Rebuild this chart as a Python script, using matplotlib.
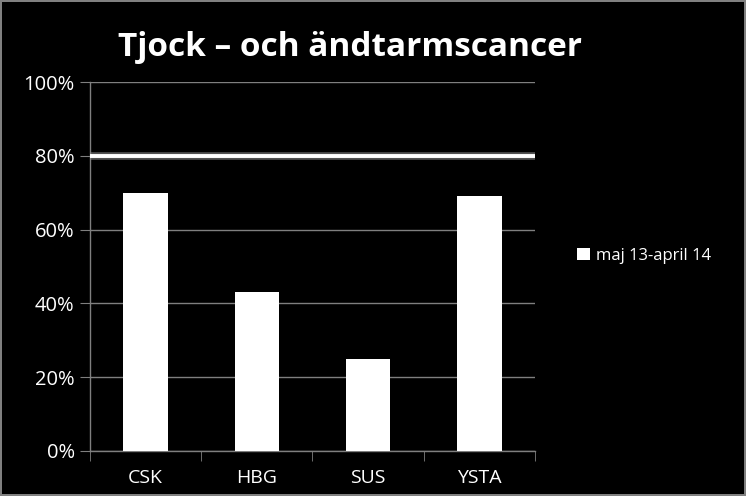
import matplotlib
matplotlib.use("Agg")
import matplotlib.pyplot as plt
import numpy as np
from matplotlib.ticker import PercentFormatter, FixedLocator

categories = ["CSK", "HBG", "SUS", "YSTA"]
values = [70, 43, 25, 69]
target = 80
series_label = "maj 13-april 14"
title = "Tjock – och ändtarmscancer"

plt.rcParams['font.family'] = ['Open Sans', 'DejaVu Sans']

fig = plt.figure(figsize=(7.46, 4.96), dpi=100, facecolor="black")
fig.patch.set_edgecolor("#808080")
fig.patch.set_linewidth(1.5)
ax = fig.add_axes([90/746, 1-451/496, 445/746, 369/496], facecolor="black")

x = np.arange(len(categories))
ax.bar(x, values, width=0.4, color="white", label=series_label, zorder=3)

# target line with glow
ax.axhline(target, color="#888888", linewidth=5.5, alpha=0.6, zorder=4)
ax.axhline(target, color="white", linewidth=2.8, zorder=5)

ax.set_xlim(-0.5, len(categories) - 0.5)
ax.set_ylim(0, 100)
ax.set_yticks([0, 20, 40, 60, 80, 100])
ax.yaxis.set_major_formatter(PercentFormatter(decimals=0))
ax.set_xticks(x)
ax.set_xticklabels(categories)
ax.xaxis.set_minor_locator(FixedLocator(np.arange(-0.5, len(categories), 1.0)))

ax.grid(axis="y", color="#7f7f7f", linewidth=1, zorder=0)
for s in ["top", "right"]:
    ax.spines[s].set_visible(False)
for s in ["left", "bottom"]:
    ax.spines[s].set_color("#7f7f7f")
    ax.spines[s].set_linewidth(1)

ax.tick_params(axis="y", colors="#7f7f7f", labelcolor="white", labelsize=14.5,
               length=7, direction="out", pad=4)
ax.tick_params(axis="x", which="major", length=0, labelcolor="white", labelsize=14, pad=13)
ax.tick_params(axis="x", which="minor", length=7, color="#7f7f7f", direction="out")

fig.text(350/746, 1-47/496, title, color="white", fontsize=24, fontweight="bold",
         ha="center", va="center")

leg = ax.legend(loc="center left", bbox_to_anchor=(562/746, 1-256/496),
                bbox_transform=fig.transFigure, frameon=False, fontsize=12,
                labelcolor="white", handlelength=0.75, handleheight=0.75,
                handletextpad=0.4)

fig.savefig("out.png", dpi=100, facecolor="black", edgecolor=fig.get_edgecolor())
